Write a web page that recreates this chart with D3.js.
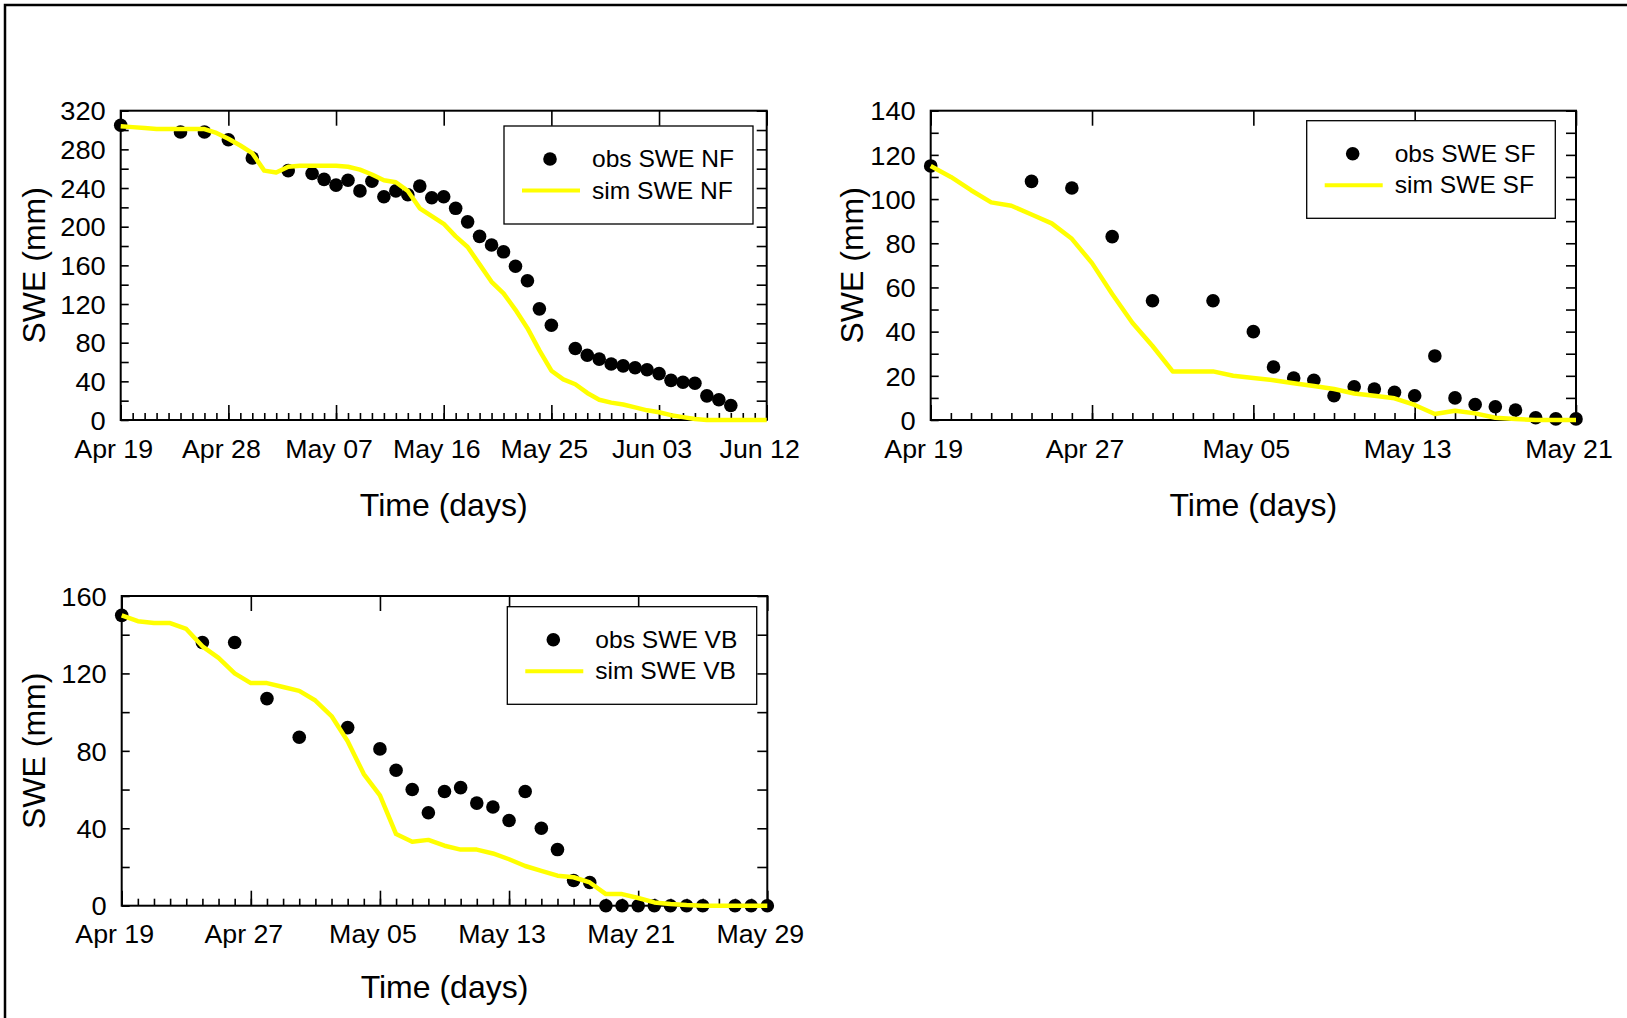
<!DOCTYPE html>
<html>
<head>
<meta charset="utf-8">
<script src="https://cdn.jsdelivr.net/npm/d3@7"></script>
<style>
  body { margin: 0; background: #fff; }
  svg { display: block; font-family: 'Liberation Sans', Arial, sans-serif; }
</style>
</head>
<body>
<script>
( function() {
  'use strict';

  // Days are offsets from Apr 19.
  var nfObsDay = [ 0, 5, 7, 9, 11, 14, 16, 17, 18, 19, 20, 21, 22, 23, 24, 25, 26, 27, 28, 29, 30,
    31, 32, 33, 34, 35, 36, 38, 39, 40, 41, 42, 43, 44, 45, 46, 47, 48, 49, 50, 51 ];
  var nfObsSwe = [ 305, 298, 298, 290, 271, 258, 255, 249, 243, 248, 237, 247, 231, 237, 233, 242, 230,
    231, 219, 205, 190, 181, 174, 159, 144, 115, 98, 74, 67, 63, 58, 56, 54, 52, 48, 41, 39, 38, 25, 21, 15 ];
  // daily, Apr 19 .. Jun 12
  var nfSimSwe = [ 304, 303, 302, 301, 301, 301, 301, 301, 297, 291,
    284, 276, 258, 256, 262, 263, 263, 263, 263, 262,
    259, 254, 248, 246, 237, 219, 211, 203, 190, 179,
    161, 143, 131, 114, 95, 72, 51, 42, 37, 28,
    21, 18, 16, 13, 10, 8, 5, 3, 1, 0,
    0, 0, 0, 0, 0 ];

  var sfObsDay = [ 0, 5, 7, 9, 11, 14, 16, 17, 18, 19, 20, 21, 22, 23, 24, 25, 26, 27, 28, 29, 30, 31, 32 ];
  var sfObsSwe = [ 115, 108, 105, 83, 54, 54, 40, 24, 19, 18, 11, 15, 14, 12.5, 11, 29, 10, 7, 6, 4.5, 1, 0.5, 0.5 ];
  // daily, Apr 19 .. May 21
  var sfSimSwe = [ 115, 110, 104, 98.5, 97, 93, 89, 82, 71, 57,
    44, 33.5, 22, 22, 22, 20, 19, 18, 16.6, 15.4,
    14, 12, 11, 9.8, 6.8, 2.7, 4.2, 3, 1, 0.4,
    0, 0, 0 ];

  var vbObsDay = [ 0, 5, 7, 9, 11, 14, 16, 17, 18, 19, 20, 21, 22, 23, 24, 25, 26, 27, 28, 29, 30,
    31, 32, 33, 34, 35, 36, 38, 39, 40 ];
  var vbObsSwe = [ 150, 136, 136, 107, 87, 92, 81, 70, 60, 48, 59, 61, 53, 51, 44, 59, 40, 29, 13, 12, 0,
    0, 0, 0, 0, 0, 0, 0, 0, 0 ];
  // daily, Apr 19 .. May 29
  var vbSimSwe = [ 150, 147, 146, 146, 143, 134, 128, 120, 115, 115,
    113, 111, 106, 98, 85, 68, 57, 37, 33, 34,
    31, 29, 29, 27, 24, 20.5, 18, 15.5, 14.7, 12,
    6, 6, 4, 1.7, 0.9, 0.3, 0, 0, 0, 0, 0 ];

  var obsLabels = [ 'obs SWE NF', 'obs SWE SF', 'obs SWE VB' ];
  var simLabels = [ 'sim SWE NF', 'sim SWE SF', 'sim SWE VB' ];
  var xTitle = 'Time (days)';
  var yTitle = 'SWE (mm)';

  var start = new Date( 2009, 3, 19 );
  var fmt = d3.timeFormat( '%b %d' );

  // Glyphs in the original are a bit wider than the font
  var SX = 1.07;

  var svg = d3.select( 'body' ).append( 'svg' )
    .attr( 'width', 1627 )
    .attr( 'height', 1018 );

  // Outer frame, runs off the right and bottom edges
  svg.append( 'rect' )
    .attr( 'x', 5 ).attr( 'y', 5 )
    .attr( 'width', 1700 ).attr( 'height', 1100 )
    .attr( 'fill', 'none' )
    .attr( 'stroke', '#000' )
    .attr( 'stroke-width', 2.5 );

  function toDate( d ) {
    return d3.timeDay.offset( start, d );
  }

  function panel( p ) {
    var nDays = p.sim.length - 1;
    var end = toDate( nDays );

    var x = d3.scaleTime().domain( [ start, end ] ).range( [ p.left, p.right ] );
    var y = d3.scaleLinear().domain( [ 0, p.yMax ] ).range( [ p.bottom, p.top ] );

    var g = svg.append( 'g' ).attr( 'class', 'panel' );

    var majors = d3.timeDay.range( start, d3.timeDay.offset( end, 1 ), p.every );
    var days = d3.timeDay.range( start, d3.timeDay.offset( end, 1 ) );
    var yMinor = d3.range( 0, p.yMax + 0.001, p.yMinor );

    // bottom: daily minor ticks
    g.append( 'g' )
      .attr( 'transform', 'translate(0,' + p.bottom + ')' )
      .call( d3.axisBottom( x ).tickValues( days ).tickSize( -7 ).tickFormat( '' ) );

    // bottom: labelled major ticks
    g.append( 'g' )
      .attr( 'class', 'xlab' )
      .attr( 'transform', 'translate(0,' + p.bottom + ')' )
      .call( d3.axisBottom( x ).tickValues( majors ).tickSize( -15 ).tickPadding( 20 ).tickFormat( fmt ) );

    // top: major ticks only
    g.append( 'g' )
      .attr( 'transform', 'translate(0,' + p.top + ')' )
      .call( d3.axisTop( x ).tickValues( majors ).tickSize( -15 ).tickFormat( '' ) );

    // left
    g.append( 'g' )
      .attr( 'class', 'ylab' )
      .attr( 'transform', 'translate(' + p.left + ',0)' )
      .call( d3.axisLeft( y ).tickValues( yMinor ).tickSize( -8 ).tickPadding( 14 )
        .tickFormat( function( d ) { return d % p.yMajor === 0 ? d : ''; } ) );

    // right
    g.append( 'g' )
      .attr( 'transform', 'translate(' + p.right + ',0)' )
      .call( d3.axisRight( y ).tickValues( yMinor ).tickSize( -10 ).tickFormat( '' ) );

    g.selectAll( '.domain' ).remove();
    g.selectAll( '.tick line' ).attr( 'stroke', '#000' ).attr( 'stroke-width', 1.6 );

    g.selectAll( '.xlab text' )
      .attr( 'font-size', 25 )
      .attr( 'font-family', null )
      .attr( 'fill', '#000' )
      .attr( 'x', -7 )
      .attr( 'transform', 'scale(' + SX + ',1)' );

    g.selectAll( '.ylab text' )
      .attr( 'font-size', 25.5 )
      .attr( 'font-family', null )
      .attr( 'fill', '#000' )
      .attr( 'dy', '0.36em' )
      .attr( 'transform', 'scale(' + SX + ',1)' );

    // plot frame
    g.append( 'rect' )
      .attr( 'x', p.left ).attr( 'y', p.top )
      .attr( 'width', p.right - p.left ).attr( 'height', p.bottom - p.top )
      .attr( 'fill', 'none' )
      .attr( 'stroke', '#000' )
      .attr( 'stroke-width', 2 );

    // observed points
    g.append( 'g' ).selectAll( 'circle' )
      .data( p.obsDay )
      .enter().append( 'circle' )
      .attr( 'cx', function( d ) { return x( toDate( d ) ); } )
      .attr( 'cy', function( d, i ) { return y( p.obs[ i ] ); } )
      .attr( 'r', 6.8 )
      .attr( 'fill', '#000' );

    // simulated line
    var line = d3.line()
      .x( function( d, i ) { return x( toDate( i ) ); } )
      .y( function( d ) { return y( d ); } );

    g.append( 'path' )
      .datum( p.sim )
      .attr( 'd', line )
      .attr( 'fill', 'none' )
      .attr( 'stroke', '#ffff00' )
      .attr( 'stroke-width', 4.5 )
      .attr( 'stroke-linejoin', 'round' );

    // axis titles
    g.append( 'text' )
      .attr( 'x', ( p.left + p.right ) / 2 )
      .attr( 'y', p.xTitleY )
      .attr( 'text-anchor', 'middle' )
      .attr( 'font-size', 32 )
      .text( xTitle );

    g.append( 'text' )
      .attr( 'transform', 'translate(' + p.yTitleX + ',' + ( p.top + p.bottom ) / 2 + ') rotate(-90)' )
      .attr( 'text-anchor', 'middle' )
      .attr( 'font-size', 32 )
      .text( yTitle );

    // legend
    var lg = g.append( 'g' ).attr( 'class', 'legend' );
    var L = p.legend;

    lg.append( 'rect' )
      .attr( 'x', L.x ).attr( 'y', L.y )
      .attr( 'width', L.w ).attr( 'height', L.h )
      .attr( 'fill', '#fff' )
      .attr( 'stroke', '#000' )
      .attr( 'stroke-width', 1.3 );

    lg.append( 'circle' )
      .attr( 'cx', L.x + 46 ).attr( 'cy', L.y + 33 )
      .attr( 'r', 6.8 )
      .attr( 'fill', '#000' );

    lg.append( 'line' )
      .attr( 'x1', L.x + 18 ).attr( 'x2', L.x + 76 )
      .attr( 'y1', L.y + 64.5 ).attr( 'y2', L.y + 64.5 )
      .attr( 'stroke', '#ffff00' )
      .attr( 'stroke-width', 4 );

    [ p.obsLabel, p.simLabel ].forEach( function( t, i ) {
      lg.append( 'text' )
        .attr( 'transform', 'translate(' + ( L.x + 88 ) + ',' + ( L.y + 41 + i * 31.5 ) + ') scale(' + SX + ',1)' )
        .attr( 'font-size', 23 )
        .text( t );
    } );
  }

  panel( {
    left: 120.7, right: 766.7, top: 110.7, bottom: 420,
    yMax: 320, yMajor: 40, yMinor: 20, every: 9,
    obsDay: nfObsDay, obs: nfObsSwe, sim: nfSimSwe,
    obsLabel: obsLabels[ 0 ], simLabel: simLabels[ 0 ],
    xTitleY: 516, yTitleX: 45,
    legend: { x: 504, y: 126, w: 249, h: 98 }
  } );

  panel( {
    left: 930.7, right: 1576, top: 110.7, bottom: 420,
    yMax: 140, yMajor: 20, yMinor: 10, every: 8,
    obsDay: sfObsDay, obs: sfObsSwe, sim: sfSimSwe,
    obsLabel: obsLabels[ 1 ], simLabel: simLabels[ 1 ],
    xTitleY: 516, yTitleX: 863,
    legend: { x: 1306.7, y: 120.7, w: 248.6, h: 97.6 }
  } );

  panel( {
    left: 121.7, right: 767.3, top: 596, bottom: 905.7,
    yMax: 160, yMajor: 40, yMinor: 20, every: 8,
    obsDay: vbObsDay, obs: vbObsSwe, sim: vbSimSwe,
    obsLabel: obsLabels[ 2 ], simLabel: simLabels[ 2 ],
    xTitleY: 998, yTitleX: 45,
    legend: { x: 507.3, y: 606.7, w: 249.4, h: 97.6 }
  } );
} )();
</script>
</body>
</html>
